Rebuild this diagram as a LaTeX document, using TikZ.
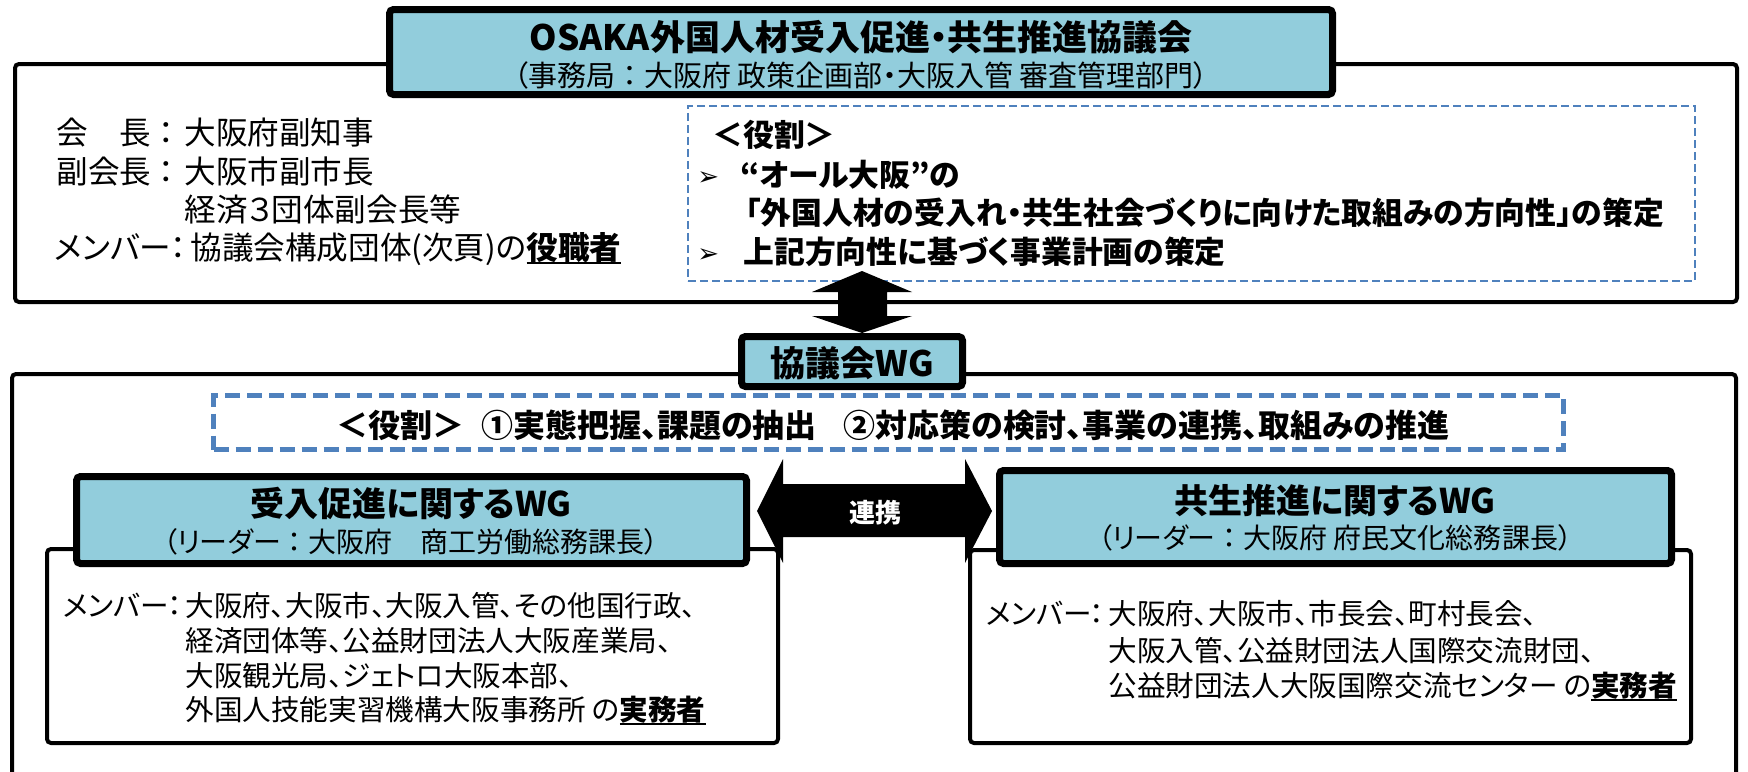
\documentclass[tikz,border=0pt]{standalone}
\usepackage{fontspec}
\setmainfont{Noto Sans CJK JP}[RawFeature=+palt]
\newfontfamily\jpfw{Noto Sans CJK JP}
\newfontfamily\dejavu{DejaVu Sans}
\definecolor{hdr}{RGB}{146,205,220}
\definecolor{dblue}{RGB}{79,129,189}
\newcommand\myfs[1]{\fontsize{#1}{#1}\selectfont}
\newcommand\myul[1]{\setbox0\hbox{#1}\rlap{\rule[-0.16em]{\wd0}{1pt}}\box0}
\newcommand\fwc{{\jpfw ：}}
\begin{document}
\begin{tikzpicture}[x=0.5pt,y=-0.5pt,
  outerbox/.style={draw=black, line width=2pt, rounded corners=2pt, inner sep=0pt},
  hdrbox/.style={draw=black, fill=hdr, line width=3.5pt, rounded corners=2pt, inner sep=0pt},
  bodybox/.style={draw=black, fill=white, line width=2pt, rounded corners=2pt, inner sep=0pt},
  thindash/.style={draw=dblue, line width=1pt, dash pattern=on 4pt off 2pt, inner sep=0pt},
  thickdash/.style={draw=dblue, line width=2.5pt, dash pattern=on 7.5pt off 3.5pt, inner sep=0pt},
  ln/.style={anchor=base west, inner sep=0pt},
  ctr/.style={anchor=base, inner sep=0pt},
  topfont/.style={font=\myfs{15.8pt}},
  rolefont/.style={font=\myfs{15.4pt}\bfseries},
  bodyfont/.style={font=\myfs{14.3pt}},
  bullet/.style={anchor=base west, inner sep=0pt, font=\myfs{13pt}\dejavu},
  blockarrow/.style={fill=black},
]
\useasboundingbox (0,0) rectangle (1748,771);
% --- upper part
\node[outerbox, minimum width=861pt, minimum height=119pt] (topouter) at (876,183) {};
\node[thindash, minimum width=503.5pt, minimum height=87.5pt] (rolebox) at (1191.5,193.5) {};
\node[hdrbox, minimum width=471.5pt, minimum height=42.5pt] (council) at (861,52) {};
\node[ctr, font=\myfs{17.5pt}\bfseries] (ctitle) at (861,50) {OSAKA外国人材受入促進・共生推進協議会};
\node[ctr, font=\myfs{14.5pt}] (csub) at (861,86) {（事務局\fwc 大阪府 政策企画部・大阪入管 審査管理部門）};

\node[ln, topfont] (l1a) at (56,144) {会　長};
\node[ctr, topfont] (l1c) at (166,144) {\fwc};
\node[ln, topfont] (l1b) at (184,144) {大阪府副知事};
\node[ln, topfont] (l2a) at (56,183) {副会長};
\node[ctr, topfont] (l2c) at (166,183) {\fwc};
\node[ln, topfont] (l2b) at (184,183) {大阪市副市長};
\node[ln, topfont] (l3b) at (184,221) {経済３団体副会長等};
\node[ln, topfont] (l4a) at (54,259) {メンバー};
\node[ctr, topfont] (l4c) at (178,259) {\fwc};
\node[ln, topfont] (l4b) at (190,259) {協議会構成団体(次頁)の\myul{\bfseries 役職者}};

\node[ln, rolefont] (r0) at (712,146) {＜役割＞};
\node[bullet] (b1) at (697,185) {➢};
\node[ln, rolefont] (r1) at (740,186) {“オール大阪”の};
\node[ln, rolefont] (r2) at (745,224) {「外国人材の受入れ・共生社会づくりに向けた取組みの方向性」の策定};
\node[bullet] (b2) at (697,262) {➢};
\node[ln, rolefont] (r3) at (743,263) {上記方向性に基づく事業計画の策定};

% --- vertical double arrow
\coordinate (va1) at (862,271);
\coordinate (va2) at (862,333);
\fill[blockarrow] (va1) -- (912,292) -- (887,292) -- (887,316) -- (912,316) -- (va2) -- (812,316) -- (838,316) -- (838,292) -- (812,292) -- cycle;

% --- lower part
\node[outerbox, minimum width=862pt, minimum height=213pt] (lowouter) at (874,587) {};
\node[hdrbox, minimum width=110.5pt, minimum height=25pt] (wg) at (852,361.5) {};
\node[ctr, font=\myfs{17.5pt}\bfseries] (wgt) at (852,376) {協議会WG};
\node[thickdash, minimum width=675pt, minimum height=27pt] (midbox) at (888.5,422.5) {};
\node[ln, font=\myfs{16pt}\bfseries] (m0) at (336,437) {＜役割＞};
\node[ln, font=\myfs{16pt}\bfseries] (m1) at (481,437) {①実態把握、課題の抽出};
\node[ln, font=\myfs{16pt}\bfseries] (m2) at (843,437) {②対応策の検討、事業の連携、取組みの推進};

\node[bodybox, minimum width=365.5pt, minimum height=97pt] (lbody) at (412.5,646) {};
\node[hdrbox, minimum width=335pt, minimum height=43.5pt] (lhdr) at (411.5,520) {};
\node[ctr, font=\myfs{17pt}\bfseries] (lht) at (411,516) {受入促進に関するWG};
\node[ctr, font=\myfs{14pt}] (lhs) at (411,552) {（リーダー\fwc 大阪府　商工労働総務課長）};

\node[bodybox, minimum width=360.5pt, minimum height=96.5pt] (rbody) at (1330.5,646.5) {};
\node[hdrbox, minimum width=336pt, minimum height=46.5pt] (rhdr) at (1335.5,517) {};
\node[ctr, font=\myfs{17pt}\bfseries] (rht) at (1335,513) {共生推進に関するWG};
\node[ctr, font=\myfs{14pt}] (rhs) at (1335,548) {（リーダー\fwc 大阪府 府民文化総務課長）};

\node[ln, bodyfont] (la) at (63,616) {メンバー};
\node[ctr, bodyfont] (lac) at (175,616) {\fwc};
\node[ln, bodyfont] (l1) at (185,616) {大阪府、大阪市、大阪入管、その他国行政、};
\node[ln, bodyfont] (l2) at (185,651) {経済団体等、公益財団法人大阪産業局、};
\node[ln, bodyfont] (l3) at (185,686) {大阪観光局、ジェトロ大阪本部、};
\node[ln, bodyfont] (l4) at (185,720) {外国人技能実習機構大阪事務所 の\myul{\bfseries 実務者}};

\node[ln, bodyfont] (ra) at (986,624) {メンバー};
\node[ctr, bodyfont] (rac) at (1097,624) {\fwc};
\node[ln, bodyfont] (rr1) at (1108,624) {大阪府、大阪市、市長会、町村長会、};
\node[ln, bodyfont] (rr2) at (1108,661) {大阪入管、公益財団法人国際交流財団、};
\node[ln, bodyfont] (rr3) at (1108,696) {公益財団法人大阪国際交流センター の\myul{\bfseries 実務者}};

% --- horizontal double arrow
\coordinate (ha1) at (757,511);
\coordinate (ha2) at (992,511);
\fill[blockarrow] (ha1) -- (783,459) -- (783,484) -- (965,484) -- (965,459) -- (ha2) -- (965,563) -- (965,537) -- (783,537) -- (783,563) -- cycle;
\node[ctr, font=\myfs{13pt}\bfseries, text=white] (renkei) at (875,522) {連携};
\end{tikzpicture}
\end{document}
